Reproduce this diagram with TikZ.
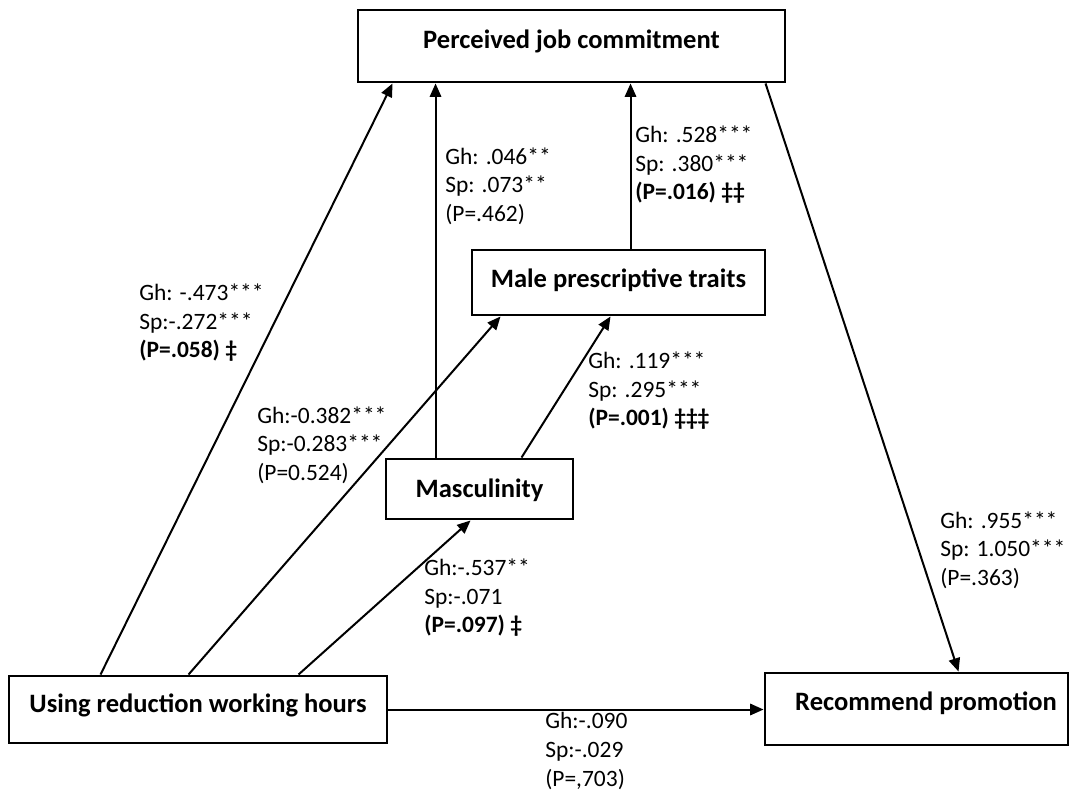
\documentclass[tikz,border=0pt]{standalone}
\usepackage{fontspec}
\setmainfont{Carlito}
\usetikzlibrary{arrows.meta,calc}
\begin{document}
\begin{tikzpicture}[x=0.75pt,y=-0.75pt,
  box/.style={draw,line width=2.2pt,inner sep=0pt},
  title/.style={font=\fontsize{19.9}{24}\selectfont\bfseries,inner sep=0pt},
  lab/.style={font=\fontsize{17.6}{21.4}\selectfont,align=left,anchor=west,inner sep=0pt},
  arr/.style={line width=1.5pt,-{Triangle[length=10pt,width=8.5pt]}},
  ln/.style={line width=1.5pt}]
\useasboundingbox (0,0) rectangle (1074,792);
% boxes
\node[box,minimum width=427*0.75pt,minimum height=72*0.75pt] (pjc) at (571.5,46) {};
\node[title] (pjct) at (571.5,41) {Perceived job commitment};
\node[box,minimum width=293*0.75pt,minimum height=65*0.75pt] (mpt) at (618.5,282.5) {};
\node[title] (mptt) at (618.5,280) {Male prescriptive traits};
\node[box,minimum width=187*0.75pt,minimum height=60*0.75pt] (mas) at (479.5,489) {};
\node[title] (mast) at (479.5,490) {Masculinity};
\node[box,minimum width=378*0.75pt,minimum height=67*0.75pt] (urw) at (198,709.5) {};
\node[title] (urwt) at (198,705) {Using reduction working hours};
\node[box,minimum width=303*0.75pt,minimum height=72*0.75pt] (rp) at (916.5,709) {};
\node[title] (rpt) at (926,703) {Recommend promotion};
% connectors
\draw[arr] ($(urw.north west)+(93,0)$) -- ($(pjc.south west)+(36,0)$);
\draw[arr] ($(mas.north west)+(51,0)$) -- ($(pjc.south west)+(79,0)$);
\draw[arr] ($(mpt.north west)+(160,0)$) -- ($(pjc.south west)+(274,0)$);
\draw[arr] ($(urw.north west)+(181,0)$) -- ($(mpt.south west)+(30,0)$);
\draw[arr] ($(mas.north west)+(137,0)$) -- ($(mpt.south west)+(140,0)$);
\draw[arr] ($(urw.north west)+(291,0)$) -- ($(mas.south west)+(86,0)$);
\draw[arr] ($(pjc.south west)+(409,0)$) -- ($(rp.north west)+(195,0)$);
\draw[arr] (urw.east) -- (urw.east -| rp.west);
% labels
\node[lab] (l1) at (139,323) {Gh: -.473***\\Sp:-.272***\\\textbf{(P=.058) ‡}};
\node[lab] (l2) at (445,186) {Gh: .046**\\Sp: .073**\\(P=.462)};
\node[lab] (l3) at (635,165) {Gh: .528***\\Sp: .380***\\\textbf{(P=.016) ‡‡}};
\node[lab] (l4) at (257,445) {Gh:-0.382***\\Sp:-0.283***\\(P=0.524)};
\node[lab] (l5) at (588,391) {Gh: .119***\\Sp: .295***\\\textbf{(P=.001) ‡‡‡}};
\node[lab] (l6) at (424,598) {Gh:-.537**\\Sp:-.071\\\textbf{(P=.097) ‡}};
\node[lab] (l7) at (940,550) {Gh: .955***\\Sp: 1.050***\\(P=.363)};
\node[lab] (l8) at (545,751) {Gh:-.090\\Sp:-.029\\(P=,703)};
\end{tikzpicture}
\end{document}
